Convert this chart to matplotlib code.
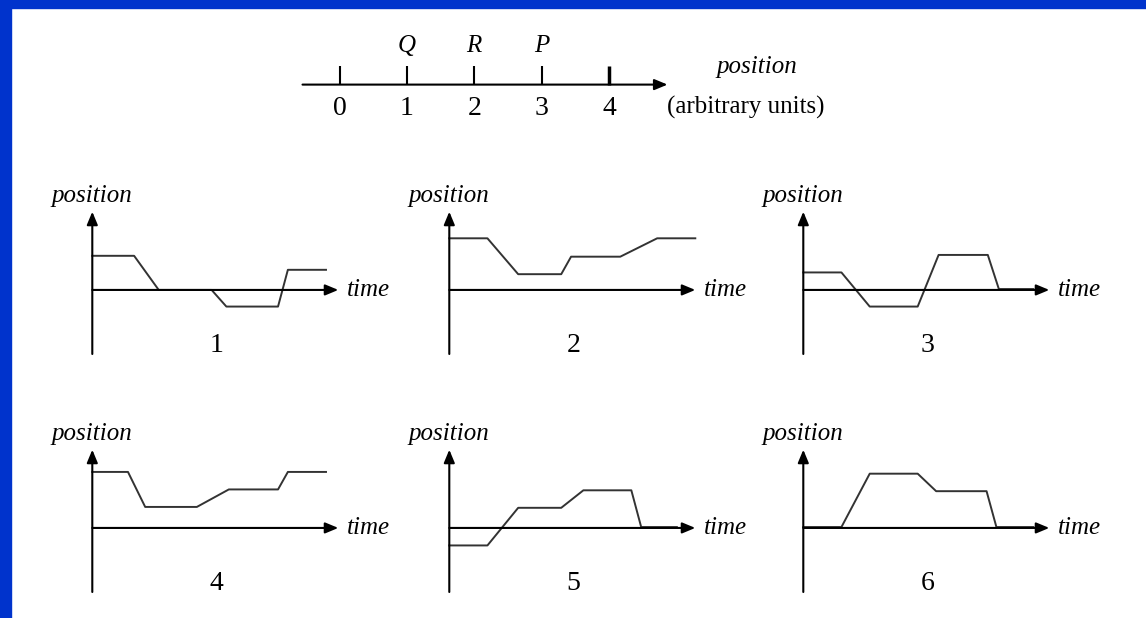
import matplotlib
matplotlib.use("Agg")
import matplotlib.pyplot as plt
from matplotlib.patches import Rectangle

plt.rcParams['font.family'] = ['Liberation Serif', 'DejaVu Serif']

# top number line
line_ticks = [0, 1, 2, 3, 4]
line_letters = {1: "Q", 2: "R", 3: "P"}

# position vs time graphs, one pair of lists per panel
time_1 = [0, 1.7, 2.7, 4.85, 5.45, 7.55, 7.95, 9.5]
pos_1 = [1.95, 1.95, 0, 0, -0.95, -0.95, 1.15, 1.15]
time_2 = [0, 1.55, 2.8, 4.55, 4.95, 6.95, 8.45, 10.0]
pos_2 = [2.95, 2.95, 0.9, 0.9, 1.9, 1.9, 2.95, 2.95]
time_3 = [0, 1.55, 2.7, 4.65, 5.5, 7.5, 7.95, 9.35]
pos_3 = [1.0, 1.0, -0.95, -0.95, 2.0, 2.0, 0.05, 0.05]
time_4 = [0, 1.45, 2.15, 4.25, 5.55, 7.55, 7.95, 9.5]
pos_4 = [3.2, 3.2, 1.2, 1.2, 2.2, 2.2, 3.2, 3.2]
time_5 = [0, 1.55, 2.8, 4.55, 5.45, 7.4, 7.8, 9.25]
pos_5 = [-1.0, -1.0, 1.15, 1.15, 2.15, 2.15, 0.05, 0.05]
time_6 = [0, 1.55, 2.7, 4.65, 5.4, 7.45, 7.85, 9.35]
pos_6 = [0.05, 0.05, 3.1, 3.1, 2.1, 2.1, 0.05, 0.05]

panels = [(time_1, pos_1), (time_2, pos_2), (time_3, pos_3),
          (time_4, pos_4), (time_5, pos_5), (time_6, pos_6)]

W, H = 1146, 618
fig = plt.figure(figsize=(W / 100, H / 100), dpi=100)


def px_rect(left, top, width, height):
    return [left / W, 1 - (top + height) / H, width / W, height / H]


def arrow(ax, start, end):
    ax.annotate("", xy=end, xytext=start, annotation_clip=False,
                arrowprops=dict(arrowstyle="-|>,head_length=0.65,head_width=0.27",
                                mutation_scale=12, lw=1.5, color="black",
                                shrinkA=0, shrinkB=0))


# blue frame on top and left
fig.add_artist(Rectangle((0, 1 - 8 / H), 1, 8 / H, transform=fig.transFigure,
                         color="#0033cc", zorder=10))
fig.add_artist(Rectangle((0, 0), 11 / W, 1, transform=fig.transFigure,
                         color="#0033cc", zorder=10))

# number line
ax0 = fig.add_axes(px_rect(302.5, 64.6, 365, 40))
ax0.set_xlim(-0.55, 4.87)
ax0.set_ylim(-1, 1)
ax0.axis("off")
arrow(ax0, (-0.55, 0), (4.87, 0))
for t in line_ticks:
    ax0.plot([t, t], [0, 0.95], color="black", lw=1.5 if t < 4 else 2.5,
             clip_on=False, solid_capstyle="butt")
    ax0.annotate(str(t), xy=(t, 0), xytext=(0, -24), textcoords="offset pixels",
                 ha="center", va="center", fontsize=20)
for t, s in line_letters.items():
    ax0.annotate(s, xy=(t, 0), xytext=(0, 39), textcoords="offset pixels",
                 ha="center", va="center", fontsize=18, style="italic")
fig.text(757 / W, 1 - 67 / H, "position", ha="center", va="center",
         fontsize=18, style="italic")
fig.text(746 / W, 1 - 107 / H, "(arbitrary units)", ha="center", va="center",
         fontsize=18)

col_x = [92.3, 449.3, 803.3]
row_y = [290, 528]

for i, (tt, pp) in enumerate(panels):
    x0 = col_x[i % 3]
    y0 = row_y[i // 3]
    ax = fig.add_axes(px_rect(x0, y0 - 78.3, 246, 142.3))
    ax.set_xlim(0, 10)
    ax.set_ylim(-3.66, 4.47)
    ax.axis("off")
    arrow(ax, (0, -3.66), (0, 4.47))
    arrow(ax, (0, 0), (10, 0))
    ax.plot(tt, pp, color="#333333", lw=1.4, clip_on=False)
    ax.annotate("position", xy=(0, 4.47), xytext=(0, 16), textcoords="offset pixels",
                ha="center", va="center", fontsize=18, style="italic")
    ax.annotate("time", xy=(10, 0), xytext=(9, 0), textcoords="offset pixels",
                ha="left", va="center", fontsize=18, style="italic")
    ax.annotate(str(i + 1), xy=(5.05, 0), xytext=(0, -56), textcoords="offset pixels",
                ha="center", va="center", fontsize=20)

fig.savefig("out.png", dpi=100, facecolor="white")
